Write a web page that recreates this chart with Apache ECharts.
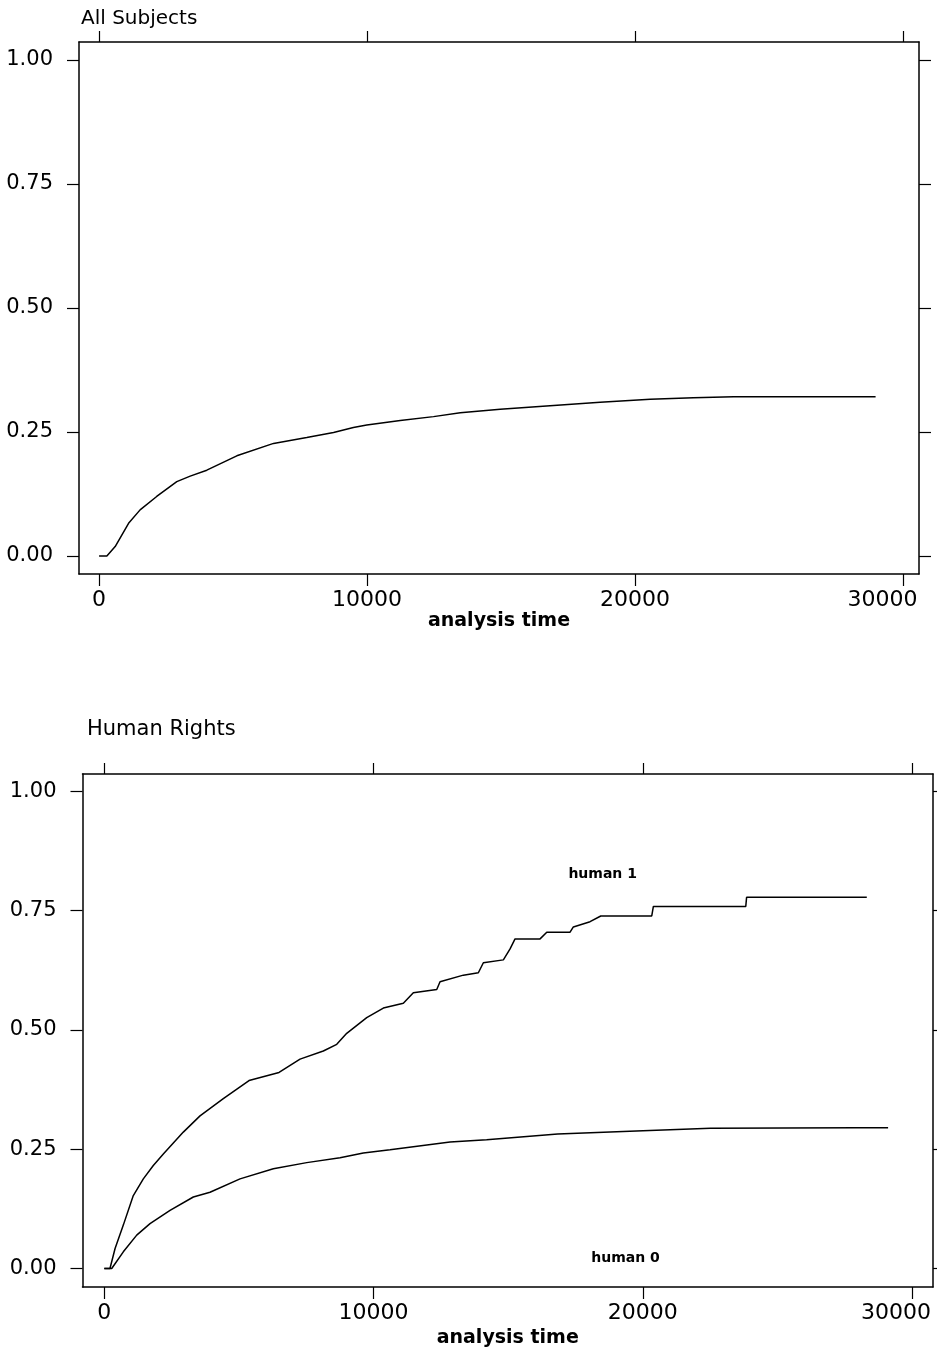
<!DOCTYPE html>
<html>
<head>
<meta charset="utf-8">
<script src="https://cdn.jsdelivr.net/npm/echarts@6/dist/echarts.min.js"></script>
<style>
html,body{margin:0;padding:0;background:#fff;}
#c{width:937px;height:1349px;}
</style>
</head>
<body>
<div id="c"></div>
<script>
// ---- data ----
const xTicks = [0, 10000, 20000, 30000];
const yTicks = [0, 0.25, 0.5, 0.75, 1];
const yTickLabels = ['0.00', '0.25', '0.50', '0.75', '1.00'];

const allTime = [0, 290, 600, 1100, 1530, 2150, 2900, 3400, 4020, 5140, 6510, 7750, 8750, 9490, 9990, 11240, 12480, 13480, 14970, 16830, 18700, 20570, 22180, 23680, 28980];
const allFail = [0, 0, 0.019, 0.066, 0.093, 0.120, 0.150, 0.161, 0.173, 0.202, 0.227, 0.239, 0.249, 0.259, 0.264, 0.273, 0.281, 0.289, 0.296, 0.303, 0.310, 0.316, 0.319, 0.321, 0.321];

const h1Time = [0, 210, 400, 706, 1077, 1449, 1820, 2192, 2935, 3555, 4420, 5375, 6490, 7270, 8135, 8633, 9004, 9747, 10364, 11107, 11478, 12348, 12470, 13336, 13893, 14079, 14822, 15071, 15256, 16185, 16434, 17300, 17422, 18042, 18440, 20334, 20394, 23826, 23856, 28321];
const h1Fail = [0, 0, 0.042, 0.091, 0.153, 0.188, 0.216, 0.240, 0.286, 0.320, 0.356, 0.394, 0.411, 0.439, 0.456, 0.470, 0.493, 0.526, 0.546, 0.556, 0.578, 0.585, 0.601, 0.615, 0.620, 0.641, 0.647, 0.670, 0.691, 0.691, 0.705, 0.705, 0.716, 0.727, 0.739, 0.739, 0.759, 0.759, 0.778, 0.778];

const h0Time = [0, 275, 706, 1204, 1698, 2441, 3306, 3926, 5041, 6278, 7519, 8756, 9621, 10613, 12842, 14201, 16839, 20007, 22515, 27923, 29112];
const h0Fail = [0, 0, 0.035, 0.070, 0.094, 0.122, 0.150, 0.160, 0.188, 0.209, 0.222, 0.232, 0.242, 0.249, 0.265, 0.270, 0.282, 0.289, 0.294, 0.295, 0.295];

const groupLabels = ['human 1', 'human 0'];
const groupLabelPos = [[18510, 0.8255], [19360, 0.021]];

const titles = ['All Subjects', 'Human Rights'];
const xName = 'analysis time';

// ---- chart ----
const FONT = 'DejaVu Sans';
const zip = (a, b) => a.map((v, i) => [v, b[i]]);
const lineStyle = { color: '#000', width: 1.5 };

function xAxes(gridIndex, min, max, shift, gap) {
  return [
    {
      type: 'value', gridIndex, position: 'bottom', min, max,
      name: xName, nameLocation: 'middle', nameGap: gap,
      nameTextStyle: { fontFamily: FONT, fontSize: 19, fontWeight: 'bold', color: '#000' },
      splitLine: { show: false },
      axisLine: { onZero: false, lineStyle: { color: '#000', width: 1.5 } },
      axisTick: { length: 12, lineStyle: { color: '#000', width: 1.2 }, customValues: xTicks },
      axisLabel: {
        customValues: xTicks, margin: 15, fontFamily: FONT, fontSize: 22, color: '#000',
        formatter: v => v === 30000 ? '{last|30000}' : String(v),
        rich: { last: { fontFamily: FONT, fontSize: 22, color: '#000', padding: [0, shift, 0, 0] } }
      }
    },
    {
      type: 'value', gridIndex, position: 'top', min, max,
      splitLine: { show: false },
      axisLine: { onZero: false, lineStyle: { color: '#000', width: 1.5 } },
      axisTick: { length: 11, lineStyle: { color: '#000', width: 1.2 }, customValues: xTicks },
      axisLabel: { show: false }
    }
  ];
}
function yAxes(gridIndex, min, max) {
  return [
    {
      type: 'value', gridIndex, position: 'left', min, max,
      splitLine: { show: false },
      axisLine: { onZero: false, lineStyle: { color: '#000', width: 1.5 } },
      axisTick: { length: 12, lineStyle: { color: '#000', width: 1.2 }, customValues: yTicks },
      axisLabel: {
        customValues: yTicks, margin: 26, fontFamily: FONT, fontSize: 21, color: '#000',
        formatter: v => yTickLabels[yTicks.indexOf(Math.round(v * 100) / 100)] ?? ''
      }
    },
    {
      type: 'value', gridIndex, position: 'right', min, max,
      splitLine: { show: false },
      axisLine: { onZero: false, lineStyle: { color: '#000', width: 1.5 } },
      axisTick: { length: 12, lineStyle: { color: '#000', width: 1.2 }, customValues: yTicks },
      axisLabel: { show: false }
    }
  ];
}

const chart = echarts.init(document.getElementById('c'), null, { renderer: 'canvas' });
chart.setOption({
  animation: false,
  backgroundColor: '#fff',
  title: [
    { text: titles[0], left: 76, top: 4, textStyle: { fontFamily: FONT, fontSize: 20, fontWeight: 'normal', color: '#000' } },
    { text: titles[1], left: 82, top: 714, textStyle: { fontFamily: FONT, fontSize: 21, fontWeight: 'normal', color: '#000' } }
  ],
  grid: [
    { left: 79, top: 42, width: 840, height: 532 },
    { left: 82.5, top: 774, width: 850.5, height: 514.5 }
  ],
  xAxis: [...xAxes(0, -750, 30600, 41, 37), ...xAxes(1, -810, 30780, 32, 42)],
  yAxis: [...yAxes(0, -0.0363, 1.0363), ...yAxes(1, -0.0387, 1.0366)],
  series: [
    { type: 'line', xAxisIndex: 0, yAxisIndex: 0, data: zip(allTime, allFail), showSymbol: false, lineStyle },
    { type: 'line', xAxisIndex: 2, yAxisIndex: 2, data: zip(h1Time, h1Fail), showSymbol: false, lineStyle },
    { type: 'line', xAxisIndex: 2, yAxisIndex: 2, data: zip(h0Time, h0Fail), showSymbol: false, lineStyle },
    {
      type: 'scatter', xAxisIndex: 2, yAxisIndex: 2, symbolSize: 0,
      data: groupLabelPos.map((p, i) => ({ value: p, name: groupLabels[i] })),
      label: {
        show: true, position: [0, 0], align: 'center', verticalAlign: 'middle',
        formatter: p => p.name,
        fontFamily: FONT, fontSize: 14, fontWeight: 'bold', color: '#000',
        textBorderWidth: 0, opacity: 1
      },
      itemStyle: { opacity: 1 }
    }
  ]
});
</script>
</body>
</html>
